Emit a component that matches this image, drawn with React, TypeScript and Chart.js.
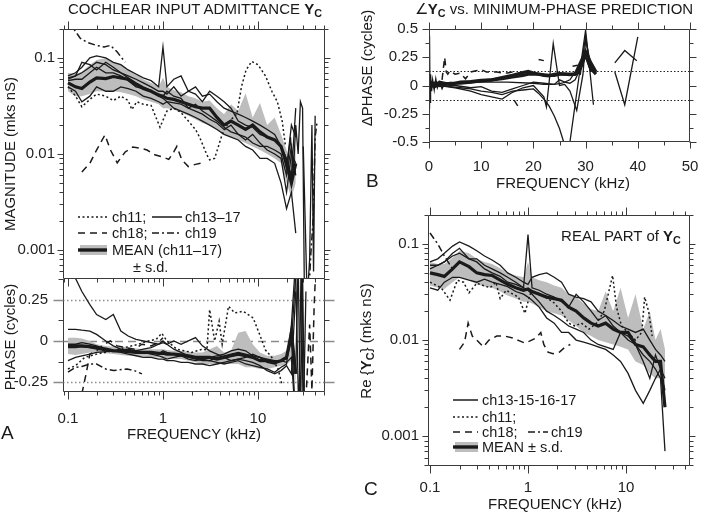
import React, { useEffect, useRef } from "react";
import { Chart, registerables } from "chart.js";
Chart.register(...registerables);

const FONT = '"Liberation Sans", Arial, Helvetica, sans-serif';
const INK = "#1a1a1a";
const BAND = "#bdbdbd";
const FRAME = "#3a3a3a";

// ---------------- Panel A (magnitude + phase) ----------------
const FA = [0.1, 0.12, 0.14, 0.17, 0.2, 0.25, 0.3, 0.36, 0.43, 0.52, 0.62, 0.75, 0.9, 1.0, 1.1, 1.3, 1.55, 1.85, 2.2, 2.6, 3.1, 3.7, 4.4, 5.2, 6.2, 7.4, 8.8, 10.5, 12.5, 15, 17.5, 20, 22.5, 25];

const magMean = [0.055, 0.05, 0.048, 0.056, 0.062, 0.061, 0.064, 0.062, 0.06, 0.053, 0.048, 0.045, 0.041, 0.04, 0.038, 0.037, 0.035, 0.033, 0.031, 0.03, 0.03, 0.024, 0.02, 0.022, 0.02, 0.018, 0.02, 0.017, 0.015, 0.014, 0.012, 0.008, 0.005, 0.008];
const magUpper = [0.07, 0.068, 0.072, 0.085, 0.095, 0.1, 0.09, 0.085, 0.075, 0.068, 0.06, 0.055, 0.05, 0.062, 0.05, 0.046, 0.044, 0.04, 0.038, 0.035, 0.036, 0.03, 0.026, 0.033, 0.028, 0.043, 0.024, 0.034, 0.02, 0.024, 0.016, 0.011, 0.008, 0.012];
const magLower = [0.045, 0.04, 0.04, 0.042, 0.045, 0.045, 0.045, 0.044, 0.042, 0.04, 0.037, 0.035, 0.033, 0.03, 0.03, 0.029, 0.027, 0.025, 0.023, 0.021, 0.02, 0.018, 0.016, 0.015, 0.014, 0.013, 0.012, 0.011, 0.01, 0.009, 0.008, 0.005, 0.0035, 0.005];
const magCh13 = [0.065, 0.07, 0.08, 0.1, 0.105, 0.1, 0.09, 0.085, 0.075, 0.068, 0.062, 0.058, 0.05, 0.13, 0.05, 0.06, 0.065, 0.045, 0.05, 0.04, 0.042, 0.035, 0.03, 0.028, 0.026, 0.024, 0.022, 0.02, 0.018, 0.016, 0.012, 0.007, 0.02, 0.015];
const magCh14 = [0.06, 0.065, 0.09, 0.085, 0.075, 0.09, 0.08, 0.07, 0.065, 0.06, 0.055, 0.05, 0.045, 0.045, 0.042, 0.05, 0.04, 0.045, 0.042, 0.035, 0.045, 0.04, 0.035, 0.03, 0.022, 0.02, 0.019, 0.016, 0.015, 0.014, 0.012, 0.009, 0.006, 0.03];
const magCh15 = [0.05, 0.045, 0.035, 0.04, 0.05, 0.045, 0.045, 0.05, 0.048, 0.045, 0.04, 0.038, 0.035, 0.033, 0.035, 0.03, 0.028, 0.026, 0.024, 0.022, 0.02, 0.018, 0.016, 0.015, 0.014, 0.012, 0.011, 0.009, 0.009, 0.008, 0.005, 0.0027, 0.004, 0.0015];
const magCh16 = [0.058, 0.06, 0.06, 0.07, 0.08, 0.07, 0.07, 0.065, 0.058, 0.05, 0.048, 0.045, 0.042, 0.04, 0.045, 0.04, 0.038, 0.03, 0.033, 0.028, 0.025, 0.022, 0.019, 0.017, 0.016, 0.015, 0.013, 0.012, 0.012, 0.011, 0.01, 0.006, 0.012, 0.006];
const magCh17 = [0.062, 0.065, 0.07, 0.08, 0.09, 0.085, 0.075, 0.07, 0.062, 0.055, 0.05, 0.046, 0.04, 0.038, 0.035, 0.034, 0.033, 0.03, 0.028, 0.026, 0.023, 0.021, 0.018, 0.02, 0.016, 0.014, 0.016, 0.013, 0.011, 0.01, 0.009, 0.004, 0.01, 0.008];

const magHiF1 = [20.5, 22, 23.5, 25, 26.5, 28, 29.5, 31];
const magHiV1 = [0.008, 0.015, 0.006, 0.02, 0.01, 0.035, 0.03, 0.0002];
const magHiF2 = [30, 33, 35, 37, 38.5, 40];
const magHiV2 = [0.012, 0.0003, 0.0008, 0.02, 0.0006, 0.025];

const magCh11F = [0.1, 0.12, 0.14, 0.17, 0.2, 0.25, 0.3, 0.36, 0.43, 0.47, 0.53, 0.62, 0.75, 0.93, 1.1, 1.3, 1.55, 1.85, 2.2, 2.45, 2.9, 3.1, 3.5, 4.2, 5.0, 6.0, 6.7, 7.5, 8.6, 10, 12, 14, 16, 18, 19.5];
const magCh11V = [0.05, 0.04, 0.031, 0.037, 0.042, 0.04, 0.036, 0.04, 0.036, 0.029, 0.035, 0.033, 0.032, 0.019, 0.028, 0.03, 0.027, 0.022, 0.018, 0.0147, 0.0098, 0.0087, 0.009, 0.016, 0.022, 0.026, 0.05, 0.075, 0.092, 0.085, 0.065, 0.045, 0.035, 0.022, 0.012];
const magCh18F = [0.14, 0.17, 0.2, 0.245, 0.28, 0.33, 0.4, 0.48, 0.58, 0.68, 0.82, 1.0, 1.15, 1.3, 1.4, 1.58, 1.85, 2.2, 2.5];
const magCh18V = [0.0065, 0.008, 0.011, 0.0158, 0.011, 0.0081, 0.0105, 0.0118, 0.0115, 0.011, 0.0098, 0.0093, 0.0088, 0.0105, 0.012, 0.0087, 0.0074, 0.0078, 0.008];
const magCh19F = [0.1, 0.115, 0.135, 0.16, 0.2, 0.24, 0.28, 0.33, 0.4];
const magCh19V = [0.24, 0.2, 0.16, 0.145, 0.135, 0.13, 0.135, 0.115, 0.09];
const magCh19HiF = [34, 36, 38, 40, 42];
const magCh19HiV = [0.0003, 0.0009, 0.002, 0.015, 0.022];

const phMean = [-0.03, -0.03, -0.03, -0.035, -0.04, -0.05, -0.06, -0.06, -0.065, -0.07, -0.07, -0.07, -0.075, -0.075, -0.08, -0.08, -0.085, -0.09, -0.1, -0.1, -0.1, -0.11, -0.1, -0.09, -0.08, -0.09, -0.1, -0.12, -0.12, -0.13, -0.12, -0.1, 0.05, -0.2];
const phUpper = [0.02, 0.02, 0.015, 0.0, -0.02, -0.03, -0.035, -0.03, -0.04, -0.045, -0.05, -0.05, -0.05, -0.05, -0.055, -0.06, -0.06, -0.065, -0.07, -0.07, -0.05, -0.03, -0.07, -0.06, 0.05, 0.06, -0.02, -0.07, -0.09, -0.09, -0.08, -0.06, 0.0, -0.1];
const phLower = [-0.08, -0.085, -0.08, -0.07, -0.07, -0.075, -0.08, -0.085, -0.09, -0.09, -0.095, -0.1, -0.1, -0.1, -0.105, -0.11, -0.11, -0.12, -0.13, -0.14, -0.14, -0.14, -0.14, -0.14, -0.14, -0.16, -0.16, -0.17, -0.17, -0.16, -0.15, -0.14, -0.12, -0.25];
const phCh13 = [0.5, 0.38, 0.3, 0.22, 0.16, 0.13, 0.16, 0.06, 0.03, 0.01, 0.0, -0.01, -0.02, -0.01, -0.02, 0.0, -0.02, 0.0, 0.02, -0.03, -0.06, -0.08, -0.1, -0.12, -0.11, -0.1, -0.08, -0.1, -0.12, -0.13, -0.12, -0.1, 0.05, -0.5];
const phCh14 = [0.07, 0.07, 0.065, 0.06, 0.04, 0.0, -0.03, -0.05, -0.06, -0.065, -0.07, -0.07, -0.08, -0.06, -0.07, -0.08, -0.09, -0.1, -0.11, -0.12, -0.12, -0.13, -0.14, -0.13, -0.12, -0.14, -0.15, -0.16, -0.17, -0.19, -0.16, -0.14, 0.1, 0.5];
const phCh15 = [-0.12, -0.1, -0.09, -0.08, -0.07, -0.065, -0.06, -0.06, -0.06, -0.06, -0.07, -0.08, -0.09, -0.1, -0.11, -0.1, -0.09, -0.11, -0.12, -0.11, -0.12, -0.1, -0.09, -0.08, -0.07, -0.08, -0.09, -0.1, -0.11, -0.12, -0.12, -0.13, -0.1, -0.5];
const phCh16 = [-0.02, -0.02, -0.01, -0.02, -0.03, -0.05, -0.06, -0.07, -0.08, -0.09, -0.1, -0.1, -0.11, -0.11, -0.12, -0.12, -0.13, -0.13, -0.14, -0.14, -0.15, -0.14, -0.13, -0.12, -0.11, -0.12, -0.13, -0.15, -0.18, -0.2, -0.18, -0.15, -0.2, 0.3];
const phCh17 = [-0.04, -0.04, -0.035, -0.04, -0.05, -0.06, -0.06, -0.055, -0.05, -0.06, -0.05, -0.04, -0.02, 0.0, -0.02, -0.05, -0.07, -0.09, -0.1, -0.1, -0.1, -0.09, -0.08, -0.06, -0.05, -0.06, -0.09, -0.1, -0.13, -0.14, -0.12, -0.11, 0.0, 0.4];

const phHiF1 = [25, 26.5, 28, 29.5, 31];
const phHiV1 = [-0.2, 0.5, -0.5, 0.4, -0.5];
const phHiF2 = [25, 27, 28.5, 30, 32];
const phHiV2 = [0.4, -0.5, 0.5, -0.5, 0.3];

const phCh11F = [0.1, 0.12, 0.15, 0.2, 0.3, 0.4, 0.55, 0.7, 0.85, 0.97, 1.1, 1.4, 2.0, 2.6, 2.9, 3.1, 3.5, 3.9, 4.2, 4.9, 5.7, 7.0, 8.9, 10.4, 12, 14, 16.3, 17.8];
const phCh11V = [-0.17, -0.15, -0.1, -0.08, -0.06, -0.04, -0.02, 0.0, 0.01, 0.047, 0.0, -0.05, -0.07, -0.05, -0.055, 0.19, 0.0, 0.12, -0.02, 0.21, 0.17, 0.18, 0.14, 0.04, -0.055, -0.1, -0.17, -0.26];
const phCh18F = [0.14, 0.155, 0.17, 0.2, 0.24, 0.28, 0.33, 0.4, 0.5, 0.6, 0.75, 0.9, 1.0];
const phCh18V = [-0.32, -0.2, -0.08, -0.06, -0.02, 0.0, -0.03, -0.04, -0.05, -0.02, -0.03, -0.01, 0.02];
const phCh18HiF = [31, 33, 35, 37, 39, 41];
const phCh18HiV = [-0.5, -0.2, 0.1, -0.3, 0.2, 0.5];
const phCh19F = [0.1, 0.12, 0.14, 0.17, 0.2, 0.25, 0.3, 0.35, 0.42, 0.5, 0.6];
const phCh19V = [-0.19, -0.16, -0.155, -0.14, -0.14, -0.17, -0.18, -0.175, -0.17, -0.18, -0.2];

// ---------------- Panel B (delta phase, linear kHz) ----------------
const FB = [0.1, 0.5, 1, 1.5, 2, 3, 4, 5, 6, 8, 10, 12, 14, 16, 18, 19, 20, 21, 22, 23, 24, 25, 26, 27, 28, 29, 30, 31, 32];
const bMean1 = [0, 0.02, -0.01, 0.02, 0.0, 0.01, 0.02, 0.02, 0.02, 0.03, 0.04, 0.05, 0.07, 0.09, 0.115, 0.125, 0.11, 0.1, 0.09, 0.085, 0.1, 0.105, 0.1, 0.1, 0.1, 0.2, 0.3, 0.2, 0.12];
const bMean2 = [0.01, 0.0, 0.02, 0.01, 0.03, 0.02, 0.01, 0.02, 0.03, 0.035, 0.045, 0.05, 0.06, 0.075, 0.09, 0.1, 0.1, 0.1, 0.095, 0.09, 0.09, 0.1, 0.1, 0.095, 0.1, 0.15, 0.28, 0.15, 0.1];
const bT1F = [0.2, 1, 2, 4, 6, 8, 10, 12, 14, 16, 18, 20, 21, 22, 23, 24, 25, 25.8, 27, 28.5, 30, 31.5];
const bT1V = [0, -0.02, 0.0, -0.01, -0.02, -0.03, -0.05, -0.06, -0.08, -0.05, -0.04, -0.03, -0.07, -0.12, -0.18, -0.27, -0.38, -0.5, -0.5, 0.0, 0.49, -0.17];
const bT2F = [0.2, 2, 5, 8, 10, 12, 14, 16, 18, 20, 22, 22.5, 23.8, 25, 26, 27, 28.3, 29.5, 30, 31.2];
const bT2V = [0.0, 0.0, -0.02, -0.05, -0.08, -0.1, -0.12, -0.06, -0.02, 0.0, -0.1, -0.19, 0.37, 0.0, 0.01, -0.05, -0.22, 0.1, 0.4, 0.15];
const bT3F = [0.2, 2, 5, 8, 10, 12, 14, 16, 18, 20, 22, 24, 25, 26, 27, 28, 29, 30, 31];
const bT3V = [0, 0.01, 0.0, -0.02, -0.01, -0.05, -0.06, -0.03, 0.0, 0.03, 0.02, 0.01, 0.05, 0.03, 0.02, 0.05, 0.15, 0.25, 0.12];
const bT4F = [0.2, 2, 5, 10, 15, 20, 22, 24, 25.5, 27, 28, 29, 30, 31];
const bT4V = [0.01, 0.02, 0.02, 0.03, 0.03, 0.02, 0.01, 0.01, 0.02, 0.05, 0.12, 0.1, 0.44, 0.12];
const bSpikeF = [0, 0.1, 0.2, 0.3, 0.5, 0.7, 1.0, 1.3, 1.6, 2.0, 2.5, 3];
const bSpikeV = [-0.2, 0.44, -0.15, 0.1, -0.05, 0.05, -0.04, 0.06, -0.02, 0.03, -0.03, 0.02];
const bHiAF = [35.6, 37.5, 39.8];
const bHiAV = [0.2, 0.31, 0.22];
const bHiBF = [35.6, 37.5, 40];
const bHiBV = [0.12, -0.17, 0.43];
const bDashF = [2.5, 3, 3.3, 3.6, 4, 5, 6, 7, 8, 9, 10, 11, 12, 13, 14, 15, 16, 17];
const bDashV = [0.05, 0.25, 0.12, 0.1, 0.13, 0.1, 0.11, 0.06, 0.12, 0.13, 0.14, 0.12, 0.12, 0.12, 0.11, 0.11, 0.12, 0.11];
const bDash2F = [21, 22];
const bDash2V = [0.23, 0.22];
const bDash3F = [16.3, 17];
const bDash3V = [-0.13, -0.18];
const bDash4F = [27.5, 28.5];
const bDash4V = [0.17, 0.18];

// ---------------- Panel C (real part) ----------------
const FC = FA;
const reMean = [0.05, 0.048, 0.046, 0.055, 0.065, 0.058, 0.05, 0.048, 0.047, 0.042, 0.038, 0.035, 0.033, 0.034, 0.032, 0.03, 0.028, 0.027, 0.026, 0.022, 0.02, 0.017, 0.015, 0.014, 0.015, 0.013, 0.012, 0.012, 0.009, 0.0085, 0.007, 0.006, 0.006, 0.002];
const reUpper = [0.065, 0.062, 0.062, 0.072, 0.085, 0.08, 0.07, 0.065, 0.062, 0.056, 0.05, 0.047, 0.045, 0.065, 0.045, 0.042, 0.04, 0.037, 0.035, 0.03, 0.028, 0.024, 0.021, 0.02, 0.032, 0.02, 0.035, 0.017, 0.03, 0.013, 0.02, 0.01, 0.013, 0.008];
const reLower = [0.037, 0.035, 0.034, 0.04, 0.045, 0.042, 0.038, 0.036, 0.035, 0.032, 0.029, 0.027, 0.025, 0.025, 0.024, 0.022, 0.02, 0.019, 0.018, 0.016, 0.014, 0.012, 0.011, 0.01, 0.0095, 0.009, 0.0085, 0.008, 0.006, 0.0055, 0.0045, 0.004, 0.004, 0.0035];
const reCh13 = [0.065, 0.07, 0.08, 0.095, 0.105, 0.095, 0.085, 0.075, 0.068, 0.06, 0.05, 0.045, 0.04, 0.038, 0.045, 0.048, 0.05, 0.045, 0.04, 0.03, 0.028, 0.027, 0.025, 0.02, 0.018, 0.016, 0.014, 0.013, 0.012, 0.013, 0.01, 0.008, 0.007, 0.006];
const reCh15 = [0.055, 0.06, 0.065, 0.08, 0.09, 0.07, 0.07, 0.06, 0.055, 0.05, 0.045, 0.04, 0.035, 0.125, 0.035, 0.033, 0.03, 0.028, 0.025, 0.022, 0.03, 0.025, 0.02, 0.016, 0.018, 0.014, 0.012, 0.011, 0.009, 0.007, 0.006, 0.005, 0.004, 0.0007];
const reCh16 = [0.035, 0.033, 0.04, 0.045, 0.045, 0.042, 0.04, 0.043, 0.04, 0.038, 0.036, 0.032, 0.03, 0.028, 0.026, 0.022, 0.017, 0.015, 0.012, 0.012, 0.01, 0.0095, 0.009, 0.0085, 0.008, 0.007, 0.006, 0.0045, 0.003, 0.0022, 0.003, 0.004, 0.005, 0.003];
const reCh17 = [0.06, 0.06, 0.065, 0.075, 0.08, 0.07, 0.065, 0.055, 0.05, 0.046, 0.04, 0.038, 0.035, 0.033, 0.03, 0.025, 0.02, 0.018, 0.016, 0.014, 0.013, 0.012, 0.01, 0.009, 0.0085, 0.008, 0.012, 0.01, 0.009, 0.006, 0.004, 0.007, 0.005, 0.004];
const reCh11F = [0.1, 0.13, 0.16, 0.19, 0.22, 0.25, 0.3, 0.35, 0.41, 0.47, 0.52, 0.6, 0.7, 0.8, 0.93, 1.05, 1.2, 1.5, 1.8, 2.2, 2.6, 3.0, 3.5, 4.2, 5.0, 6.0, 7.3, 8.0, 9, 10.5, 12.5, 14.5, 15.5, 17, 18.5];
const reCh11V = [0.04, 0.035, 0.026, 0.042, 0.04, 0.031, 0.039, 0.037, 0.035, 0.04, 0.027, 0.033, 0.03, 0.028, 0.019, 0.03, 0.032, 0.028, 0.025, 0.02, 0.015, 0.014, 0.015, 0.013, 0.015, 0.02, 0.047, 0.022, 0.014, 0.012, 0.01, 0.012, 0.028, 0.02, 0.011];
const reCh18F = [0.2, 0.225, 0.245, 0.27, 0.3, 0.35, 0.4, 0.48, 0.58, 0.7, 0.82, 0.93, 1.05, 1.2, 1.35, 1.45, 1.6, 1.8, 2.1, 2.4, 2.7];
const reCh18V = [0.008, 0.0095, 0.015, 0.011, 0.01, 0.0085, 0.01, 0.011, 0.011, 0.0105, 0.0098, 0.0093, 0.0098, 0.0105, 0.012, 0.009, 0.0075, 0.0072, 0.0075, 0.0085, 0.009];
const reCh19F = [0.1, 0.12, 0.14, 0.17];
const reCh19V = [0.13, 0.1, 0.075, 0.055];

// ---------------- helpers ----------------
const pts = (xs: number[], ys: (number | null)[]) => xs.map((x, i) => ({ x, y: ys[i] }));

type Style = "solid" | "thick" | "dot" | "dash" | "dashdot";
const DASH: Record<Style, number[]> = {
  solid: [],
  thick: [],
  dot: [2, 2.5],
  dash: [7, 5],
  dashdot: [7, 3, 2, 3],
};
const line = (xs: number[], ys: number[], style: Style, order = 50) => ({
  data: pts(xs, ys),
  borderColor: INK,
  borderWidth: style === "thick" ? 3.2 : style === "solid" ? 1.3 : 1.5,
  borderDash: DASH[style],
  pointRadius: 0,
  fill: false,
  tension: 0,
  order: style === "thick" ? 0 : order,
});
const band = (xs: number[], up: number[], lo: number[]) => [
  { data: pts(xs, up), borderWidth: 0, borderColor: "rgba(0,0,0,0)", pointRadius: 0, fill: false, order: 100 },
  { data: pts(xs, lo), borderWidth: 0, borderColor: "rgba(0,0,0,0)", pointRadius: 0, fill: "-1", backgroundColor: BAND, order: 99 },
];

const logTicks = (min: number, max: number) => {
  const major: number[] = [];
  const minor: number[] = [];
  for (let e = -4; e <= 2; e++)
    for (let m = 1; m < 10; m++) {
      const v = m * Math.pow(10, e);
      if (v >= min * 0.999 && v <= max * 1.001) (m === 1 ? major : minor).push(v);
    }
  return { major, minor };
};

type TickSpec = { v: number; len: number; color?: string };
type AxisSpec = {
  type: "logarithmic" | "linear";
  min: number;
  max: number;
  labels: number[] | null;
  pad: number;
  ticks: TickSpec[];
  sides: ("top" | "bottom" | "left" | "right")[];
};
type Spec = {
  canvas: { left: number; top: number; width: number; height: number };
  area: { left: number; top: number; right: number; bottom: number };
  x: AxisSpec;
  y: AxisSpec;
  datasets: any[];
  refs?: { v: number; color: string; dash: number[]; width: number }[];
  frameSides?: ("top" | "bottom" | "left" | "right")[];
};

const ticksFrom = (major: number[], minor: number[], majLen = 7, minLen = 4, majColor?: string): TickSpec[] => [
  ...major.map((v) => ({ v, len: majLen, color: majColor })),
  ...minor.map((v) => ({ v, len: minLen })),
];

const fmt = (v: number) => String(Math.round(v * 1000) / 1000);

function framePlugin(spec: Spec) {
  return {
    id: "framePlugin",
    beforeDatasetsDraw(chart: any) {
      const { ctx, chartArea: a, scales } = chart;
      ctx.save();
      ctx.beginPath();
      ctx.rect(a.left, a.top, a.right - a.left, a.bottom - a.top);
      ctx.clip();
      for (const r of spec.refs || []) {
        const y = Math.round(scales.y.getPixelForValue(r.v)) + 0.5;
        ctx.strokeStyle = r.color;
        ctx.lineWidth = r.width;
        ctx.setLineDash(r.dash);
        ctx.beginPath();
        ctx.moveTo(a.left, y);
        ctx.lineTo(a.right, y);
        ctx.stroke();
      }
      ctx.restore();
    },
    afterDraw(chart: any) {
      const { ctx, chartArea: a, scales } = chart;
      const L = Math.round(a.left) + 0.5;
      const R = Math.round(a.right) - 0.5;
      const T = Math.round(a.top) + 0.5;
      const B = Math.round(a.bottom) - 0.5;
      ctx.save();
      ctx.setLineDash([]);
      ctx.lineWidth = 1;
      ctx.strokeStyle = FRAME;
      const sides = spec.frameSides || ["top", "bottom", "left", "right"];
      ctx.beginPath();
      if (sides.includes("top")) { ctx.moveTo(L, T); ctx.lineTo(R, T); }
      if (sides.includes("bottom")) { ctx.moveTo(L, B); ctx.lineTo(R, B); }
      if (sides.includes("left")) { ctx.moveTo(L, T); ctx.lineTo(L, B); }
      if (sides.includes("right")) { ctx.moveTo(R, T); ctx.lineTo(R, B); }
      ctx.stroke();
      for (const t of spec.x.ticks) {
        const px = Math.round(scales.x.getPixelForValue(t.v)) + 0.5;
        if (px < a.left - 1 || px > a.right + 1) continue;
        ctx.strokeStyle = t.color || FRAME;
        ctx.beginPath();
        if (spec.x.sides.includes("bottom")) { ctx.moveTo(px, B); ctx.lineTo(px, B + t.len); }
        if (spec.x.sides.includes("top")) { ctx.moveTo(px, T); ctx.lineTo(px, T - t.len); }
        ctx.stroke();
      }
      for (const t of spec.y.ticks) {
        const py = Math.round(scales.y.getPixelForValue(t.v)) + 0.5;
        if (py < a.top - 1 || py > a.bottom + 1) continue;
        ctx.strokeStyle = t.color || FRAME;
        ctx.lineWidth = t.color ? 1.5 : 1;
        ctx.beginPath();
        if (spec.y.sides.includes("left")) { ctx.moveTo(L, py); ctx.lineTo(L - t.len, py); }
        if (spec.y.sides.includes("right")) { ctx.moveTo(R, py); ctx.lineTo(R + t.len, py); }
        ctx.stroke();
      }
      ctx.restore();
    },
  };
}

function buildConfig(spec: Spec): any {
  const c = spec.canvas;
  const a = spec.area;
  const yW = a.left - c.left;
  const xH = c.top + c.height - a.bottom;
  const xShown = spec.x.labels !== null;
  const tickFont = { family: FONT, size: 15 };
  return {
    type: "line",
    data: { datasets: spec.datasets },
    options: {
      animation: false,
      responsive: false,
      events: [],
      devicePixelRatio: 1,
      layout: {
        padding: { top: a.top - c.top, right: c.left + c.width - a.right, left: 0, bottom: xShown ? 0 : xH },
      },
      plugins: { legend: { display: false }, tooltip: { enabled: false } },
      scales: {
        x: {
          type: spec.x.type,
          min: spec.x.min,
          max: spec.x.max,
          display: xShown,
          position: "bottom",
          grid: { display: false, drawTicks: false },
          border: { display: false },
          ticks: { padding: spec.x.pad, font: tickFont, color: "#222", autoSkip: false, maxRotation: 0, callback: (v: number) => fmt(v) },
          afterBuildTicks: (s: any) => {
            if (spec.x.labels) s.ticks = spec.x.labels.map((v) => ({ value: v }));
          },
          afterFit: (s: any) => {
            if (xShown) s.height = xH;
            s.paddingLeft = 0;
            s.paddingRight = 0;
          },
        },
        y: {
          type: spec.y.type,
          min: spec.y.min,
          max: spec.y.max,
          position: "left",
          grid: { display: false, drawTicks: false },
          border: { display: false },
          ticks: { padding: spec.y.pad, font: tickFont, color: "#222", autoSkip: false, callback: (v: number) => fmt(v) },
          afterBuildTicks: (s: any) => {
            if (spec.y.labels) s.ticks = spec.y.labels.map((v) => ({ value: v }));
          },
          afterFit: (s: any) => {
            s.width = yW;
            s.paddingTop = 0;
            s.paddingBottom = 0;
          },
        },
      },
    },
    plugins: [framePlugin(spec)],
  };
}

// ---------------- panel specs ----------------
const AX_MIN = 0.0886, AX_MAX = 50.8;
const axLog = logTicks(AX_MIN, AX_MAX);
const magLog = logTicks(0.0005, 0.2);

const specMag: Spec = {
  canvas: { left: 0, top: 15, width: 340, height: 275 },
  area: { left: 63, top: 29, right: 325, bottom: 279 },
  x: { type: "logarithmic", min: AX_MIN, max: AX_MAX, labels: null, pad: 0, ticks: ticksFrom(axLog.major, axLog.minor, 8, 4), sides: ["top", "bottom"] },
  y: { type: "logarithmic", min: 0.0005, max: 0.2, labels: [0.001, 0.01, 0.1], pad: 8, ticks: ticksFrom(magLog.major, magLog.minor, 6, 4), sides: ["left", "right"] },
  datasets: [
    ...band(FA, magUpper, magLower),
    line(magCh11F, magCh11V, "dot", 45),
    line(magCh18F, magCh18V, "dash", 45),
    line(magCh19F, magCh19V, "dashdot", 45),
    line(magCh19HiF, magCh19HiV, "dashdot", 45),
    line(FA, magCh13, "solid"),
    line(FA, magCh14, "solid"),
    line(FA, magCh15, "solid"),
    line(FA, magCh16, "solid"),
    line(FA, magCh17, "solid"),
    line(magHiF1, magHiV1, "solid"),
    line(magHiF2, magHiV2, "solid"),
    line(FA, magMean, "thick"),
  ],
};

const specPhase: Spec = {
  canvas: { left: 0, top: 270, width: 340, height: 175 },
  area: { left: 63, top: 279, right: 325, bottom: 392 },
  x: { type: "logarithmic", min: AX_MIN, max: AX_MAX, labels: [0.1, 1, 10], pad: 18, ticks: ticksFrom(axLog.major, axLog.minor, 8, 4), sides: ["bottom"] },
  y: {
    type: "linear", min: -0.31, max: 0.376, labels: [-0.25, 0, 0.25], pad: 15,
    ticks: ticksFrom([-0.25, 0, 0.25], [-0.125, 0.125, 0.375], 10, 5, "#8a8a8a"),
    sides: ["left", "right"],
  },
  frameSides: ["bottom", "left", "right"],
  refs: [
    { v: 0.25, color: "#8a8a8a", dash: [1.5, 2.5], width: 1.5 },
    { v: -0.25, color: "#8a8a8a", dash: [1.5, 2.5], width: 1.5 },
    { v: 0, color: "#8a8a8a", dash: [8, 5], width: 1.6 },
  ],
  datasets: [
    ...band(FA, phUpper, phLower),
    line(phCh11F, phCh11V, "dot", 45),
    line(phCh18F, phCh18V, "dash", 45),
    line(phCh18HiF, phCh18HiV, "dash", 45),
    line(phCh19F, phCh19V, "dashdot", 45),
    line(FA, phCh13, "solid"),
    line(FA, phCh14, "solid"),
    line(FA, phCh15, "solid"),
    line(FA, phCh16, "solid"),
    line(FA, phCh17, "solid"),
    line(phHiF1, phHiV1, "solid"),
    line(phHiF2, phHiV2, "solid"),
    line(FA, phMean, "thick"),
  ],
};

const specB: Spec = {
  canvas: { left: 355, top: 15, width: 347, height: 165 },
  area: { left: 429, top: 29, right: 690, bottom: 142 },
  x: {
    type: "linear", min: 0, max: 50, labels: [0, 10, 20, 30, 40, 50], pad: 16,
    ticks: ticksFrom([0, 10, 20, 30, 40, 50], [5, 15, 25, 35, 45], 7, 4), sides: ["top", "bottom"],
  },
  y: {
    type: "linear", min: -0.5, max: 0.5, labels: [-0.5, -0.25, 0, 0.25, 0.5], pad: 11,
    ticks: ticksFrom([-0.5, -0.25, 0, 0.25, 0.5], [-0.375, -0.125, 0.125, 0.375], 7, 4), sides: ["left", "right"],
  },
  refs: [
    { v: 0.125, color: "#222", dash: [1.5, 2], width: 1 },
    { v: -0.125, color: "#222", dash: [1.5, 2], width: 1 },
  ],
  datasets: [
    line(bDashF, bDashV, "dash", 45),
    line(bDash2F, bDash2V, "dash", 45),
    line(bDash3F, bDash3V, "dash", 45),
    line(bDash4F, bDash4V, "dash", 45),
    line(bSpikeF, bSpikeV, "solid"),
    line(bT1F, bT1V, "solid"),
    line(bT2F, bT2V, "solid"),
    line(bT3F, bT3V, "solid"),
    line(bT4F, bT4V, "solid"),
    line(bHiAF, bHiAV, "solid"),
    line(bHiBF, bHiBV, "solid"),
    line(FB, bMean2, "thick"),
    line(FB, bMean1, "thick"),
  ],
};

const CX_MIN = 0.0954, CX_MAX = 45;
const cxLog = logTicks(CX_MIN, CX_MAX);
const specC: Spec = {
  canvas: { left: 355, top: 200, width: 347, height: 300 },
  area: { left: 428, top: 215, right: 690, bottom: 466 },
  x: { type: "logarithmic", min: CX_MIN, max: CX_MAX, labels: [0.1, 1, 10], pad: 13, ticks: ticksFrom(cxLog.major, cxLog.minor, 8, 4), sides: ["top", "bottom"] },
  y: { type: "logarithmic", min: 0.00049, max: 0.2, labels: [0.001, 0.01, 0.1], pad: 9, ticks: ticksFrom(magLog.major, magLog.minor, 6, 4), sides: ["left", "right"] },
  datasets: [
    ...band(FC, reUpper, reLower),
    line(reCh11F, reCh11V, "dot", 45),
    line(reCh18F, reCh18V, "dash", 45),
    line(reCh19F, reCh19V, "dashdot", 45),
    line(FC, reCh13, "solid"),
    line(FC, reCh15, "solid"),
    line(FC, reCh16, "solid"),
    line(FC, reCh17, "solid"),
    line(FC, reMean, "thick"),
  ],
};

// ---------------- components ----------------
function ChartCanvas({ spec }: { spec: Spec }) {
  const ref = useRef<HTMLCanvasElement>(null);
  useEffect(() => {
    const chart = new Chart(ref.current as HTMLCanvasElement, buildConfig(spec));
    return () => chart.destroy();
  }, []);
  const c = spec.canvas;
  return (
    <canvas
      ref={ref}
      width={c.width}
      height={c.height}
      style={{ position: "absolute", left: c.left, top: c.top, width: c.width, height: c.height }}
    />
  );
}

function Txt(props: { x: number; y: number; size?: number; align?: "left" | "center"; children: React.ReactNode }) {
  const { x, y, size = 15, align = "center" } = props;
  const tx = align === "center" ? "-50%" : "0";
  return (
    <div
      style={{
        position: "absolute",
        left: x,
        top: y,
        fontFamily: FONT,
        fontSize: size,
        lineHeight: 1,
        color: "#1a1a1a",
        whiteSpace: "nowrap",
        transform: `translate(${tx}, -50%)`,
      }}
    >
      {props.children}
    </div>
  );
}

function RotTxt(props: { x: number; y: number; size?: number; children: React.ReactNode }) {
  const { x, y, size = 15 } = props;
  return (
    <div
      style={{
        position: "absolute",
        left: x,
        top: y,
        fontFamily: FONT,
        fontSize: size,
        lineHeight: 1,
        color: "#1a1a1a",
        whiteSpace: "nowrap",
        transform: "translate(-50%, -50%) rotate(-90deg)",
      }}
    >
      {props.children}
    </div>
  );
}

const Yc = () => (
  <b>
    Y<sub style={{ fontSize: "0.72em", verticalAlign: "-0.25em" }}>C</sub>
  </b>
);

function Sample({ x1, x2, y, style }: { x1: number; x2: number; y: number; style: Style | "mean" }) {
  if (style === "mean")
    return (
      <g>
        <rect x={x1 + 2} y={y - 5} width={x2 - x1 - 2} height={10} fill={BAND} />
        <line x1={x1} x2={x2} y1={y} y2={y} stroke={INK} strokeWidth={3.4} />
      </g>
    );
  return (
    <line
      x1={x1}
      x2={x2}
      y1={y}
      y2={y}
      stroke={INK}
      strokeWidth={1.5}
      strokeDasharray={DASH[style].length ? DASH[style].join(" ") : undefined}
    />
  );
}

export default function App() {
  useEffect(() => {
    document.body.style.margin = "0";
  }, []);
  const LG = 14.5;
  return (
    <div style={{ position: "fixed", left: 0, top: 0, width: 702, height: 515, background: "#fff", overflow: "hidden" }}>
      <ChartCanvas spec={specMag} />
      <ChartCanvas spec={specPhase} />
      <ChartCanvas spec={specB} />
      <ChartCanvas spec={specC} />

      <svg width={702} height={515} style={{ position: "absolute", left: 0, top: 0, pointerEvents: "none" }}>
        <Sample x1={78} x2={107} y={217} style="dot" />
        <Sample x1={152} x2={182} y={217} style="solid" />
        <Sample x1={78} x2={107} y={233} style="dash" />
        <Sample x1={152} x2={182} y={233} style="dashdot" />
        <Sample x1={78} x2={107} y={250} style="mean" />

        <Sample x1={453} x2={478} y={400} style="solid" />
        <Sample x1={453} x2={478} y={417} style="dot" />
        <Sample x1={453} x2={478} y={432} style="dash" />
        <Sample x1={528} x2={548} y={432} style="dashdot" />
        <Sample x1={453} x2={478} y={447} style="mean" />
      </svg>

      {/* Panel A */}
      <Txt x={195} y={10}>
        COCHLEAR INPUT ADMITTANCE <Yc />
      </Txt>
      <RotTxt x={9} y={154}>MAGNITUDE (mks nS)</RotTxt>
      <RotTxt x={9} y={337}>PHASE (cycles)</RotTxt>
      <Txt x={194} y={433}>FREQUENCY (kHz)</Txt>
      <Txt x={1} y={432} size={19} align="left">A</Txt>
      <Txt x={112} y={217} size={LG} align="left">ch11;</Txt>
      <Txt x={185} y={217} size={LG} align="left">ch13–17</Txt>
      <Txt x={112} y={233} size={LG} align="left">ch18;</Txt>
      <Txt x={185} y={233} size={LG} align="left">ch19</Txt>
      <Txt x={112} y={250} size={LG} align="left">MEAN (ch11–17)</Txt>
      <Txt x={133} y={267} size={LG} align="left">± s.d.</Txt>

      {/* Panel B */}
      <Txt x={554} y={10}>
        ∠<Yc /> vs. MINIMUM-PHASE PREDICTION
      </Txt>
      <RotTxt x={366} y={68}>ΔPHASE (cycles)</RotTxt>
      <Txt x={563} y={182}>FREQUENCY (kHz)</Txt>
      <Txt x={366} y={180} size={19} align="left">B</Txt>

      {/* Panel C */}
      <Txt x={621} y={237}>
        REAL PART of <Yc />
      </Txt>
      <RotTxt x={367} y={341}>
        Re {"{"}
        <Yc />
        {"}"} (mks nS)
      </RotTxt>
      <Txt x={555} y={503}>FREQUENCY (kHz)</Txt>
      <Txt x={364} y={488} size={19} align="left">C</Txt>
      <Txt x={482} y={400} size={LG} align="left">ch13-15-16-17</Txt>
      <Txt x={482} y={417} size={LG} align="left">ch11;</Txt>
      <Txt x={482} y={432} size={LG} align="left">ch18;</Txt>
      <Txt x={551} y={432} size={LG} align="left">ch19</Txt>
      <Txt x={482} y={447} size={LG} align="left">MEAN ± s.d.</Txt>
    </div>
  );
}
